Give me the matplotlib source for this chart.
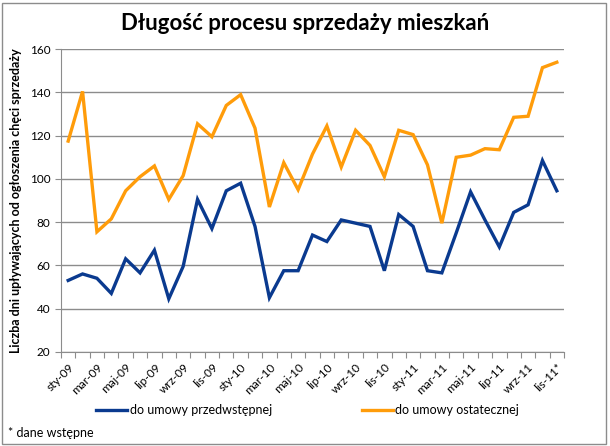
import matplotlib
matplotlib.use("Agg")
import matplotlib.pyplot as plt
from matplotlib.patches import Rectangle

plt.rcParams['font.family'] = ['Lato', 'DejaVu Sans']

# miesiące sty-09 .. lis-11
tick_labels = ["sty-09", "mar-09", "maj-09", "lip-09", "wrz-09", "lis-09",
               "sty-10", "mar-10", "maj-10", "lip-10", "wrz-10", "lis-10",
               "sty-11", "mar-11", "maj-11", "lip-11", "wrz-11", "lis-11*"]

przedwstepna = [53, 56, 54, 47, 63, 56.5, 67, 44.5, 59.5, 90.5, 77, 94.5,
                98, 78, 45, 57.5, 57.5, 74, 71, 81, 79.5, 78, 57.5, 83.5,
                78, 57.5, 56.5, 75, 94, 81, 68.5, 84.5, 88, 108.5, 94.5]
ostateczna = [117.5, 140.5, 75.5, 81.5, 94.5, 101, 106, 90.5, 101.5, 125.5,
              119.5, 134, 139, 123.5, 87, 107.5, 95, 111.5, 124.5, 105.5,
              122.5, 115.5, 101, 122.5, 120.5, 106.5, 79.5, 110, 111,
              114, 113.5, 128.5, 129, 151.5, 154]

fig = plt.figure(figsize=(6.1, 4.46), dpi=100)
fig.patches.append(Rectangle((0.004, 0.005), 0.99, 0.988, transform=fig.transFigure,
                             fill=False, edgecolor="#8c8c8c", linewidth=1))

ax = fig.add_axes([0.1, 0.2114, 0.8246, 0.6781])
x = list(range(len(przedwstepna)))
l1, = ax.plot(x, przedwstepna, color="#0a3a8f", lw=2.4, solid_joinstyle="miter",
              label="do umowy przedwstępnej")
l2, = ax.plot(x, ostateczna, color="#ff9c0a", lw=2.4, solid_joinstyle="miter",
              label="do umowy ostatecznej")

ax.set_xlim(-0.5, len(x) - 0.5)
ax.set_ylim(20, 160)
ax.set_yticks(range(20, 161, 20))
ax.yaxis.grid(True, color="#8c8c8c", lw=1)
ax.set_axisbelow(True)

ax.set_xticks([i - 0.5 for i in range(len(x) + 1)])
ax.set_xticklabels([])
ax.set_xticks(list(range(0, len(x), 2)), minor=True)
ax.set_xticklabels(tick_labels, minor=True, rotation=45, ha="right",
                   rotation_mode="anchor", fontsize=8.5)
ax.tick_params(axis="x", which="major", length=4, color="#8c8c8c", direction="out")
ax.tick_params(axis="x", which="minor", length=0, pad=7)
ax.tick_params(axis="y", length=4, color="#8c8c8c", labelsize=8.5)

for s in ["top", "right"]:
    ax.spines[s].set_visible(False)
for s in ["left", "bottom"]:
    ax.spines[s].set_color("#8c8c8c")

ax.set_ylabel("Liczba dni upływających od ogłoszenia chęci sprzedaży",
              fontsize=9, fontweight="bold", labelpad=6)
fig.text(0.5, 0.947, "Długość procesu sprzedaży mieszkań", ha="center", va="center",
         fontsize=16, fontweight="bold")

for handle, xpos in [(l1, 0.157), (l2, 0.593)]:
    fig.legend(handles=[handle], loc="center left", bbox_to_anchor=(xpos, 0.0807),
               frameon=False, fontsize=9, handlelength=2.5, handletextpad=0.2,
               borderpad=0, borderaxespad=0)
fig.text(0.013, 0.03, "* dane wstępne", fontsize=9, va="center")

fig.savefig("out.png", dpi=100)
